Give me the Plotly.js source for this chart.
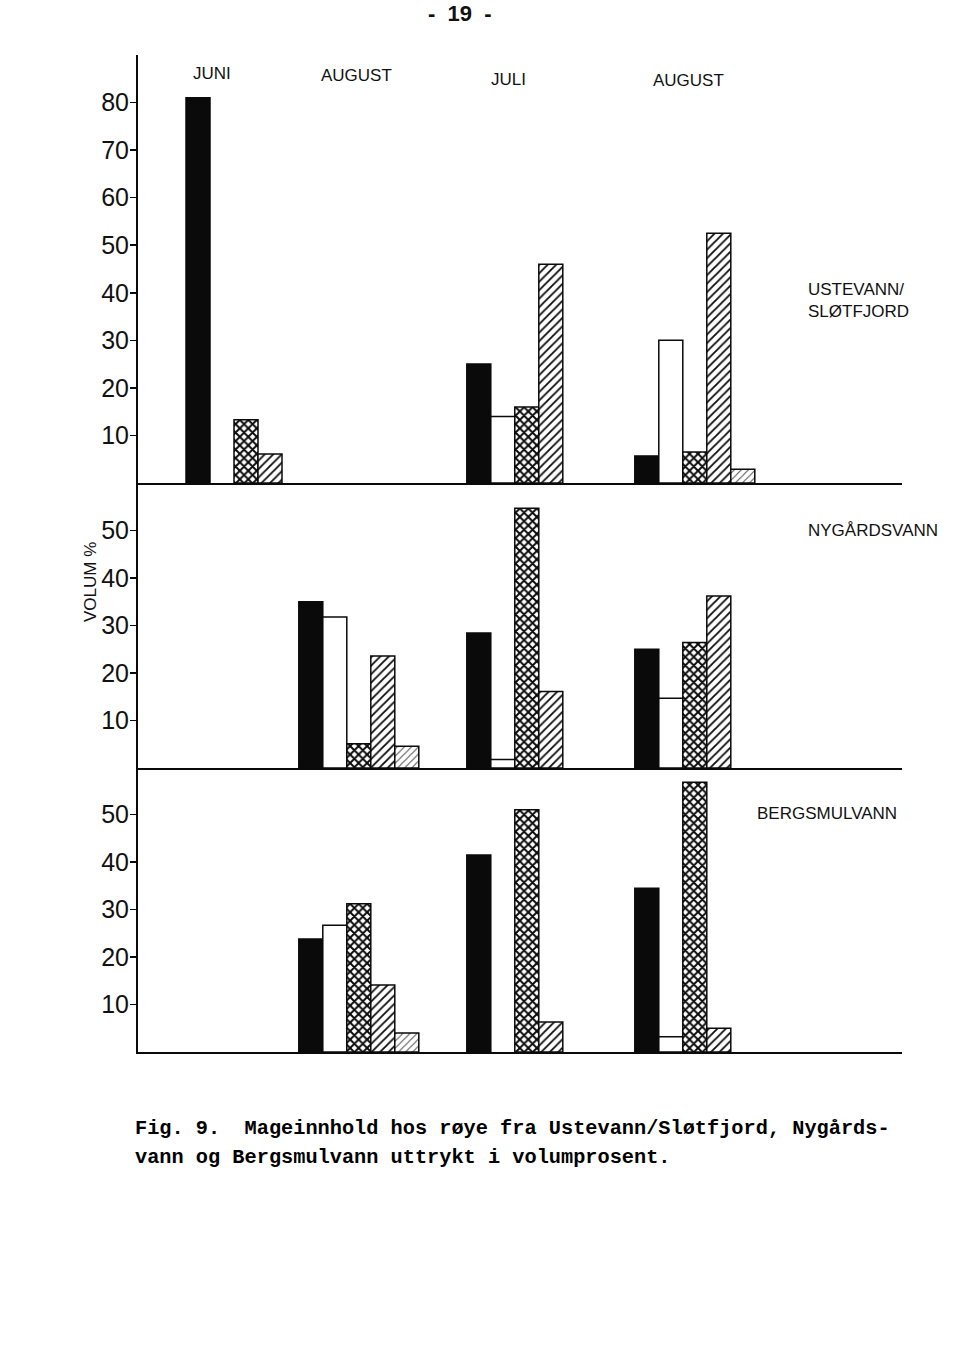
<!DOCTYPE html>
<html><head><meta charset="utf-8">
<script src="https://cdn.plot.ly/plotly-3.0.1.min.js"></script>
<style>html,body{margin:0;padding:0;background:#fff}#chart{width:960px;height:1348px}</style>
</head><body><div id="chart"></div>
<script>
// ---------------- DATA ----------------
const months = ['JUNI', 'AUGUST', 'JULI', 'AUGUST'];
const lakeLabels = ['USTEVANN/<br>SLØTFJORD', 'NYGÅRDSVANN', 'BERGSMULVANN'];
const seriesNames = ['Svart', 'Hvit', 'Kryssskravert', 'Skravert', 'Lett skravert'];

// Ustevann/Sløtfjord (volum %), per month group
const ustevannSvart   = [81,   null, 25,   5.7];
const ustevannHvit    = [null, null, 14,   30];
const ustevannKryss   = [13.3, null, 16,   6.5];
const ustevannSkravert= [6.1,  null, 46,   52.5];
const ustevannLett    = [null, null, null, 2.9];

// Nygårdsvann
const nygardsSvart    = [null, 35,   28.4, 25];
const nygardsHvit     = [null, 31.8, 1.8,  14.7];
const nygardsKryss    = [null, 5.1,  54.7, 26.4];
const nygardsSkravert = [null, 23.6, 16.1, 36.2];
const nygardsLett     = [null, 4.6,  null, null];

// Bergsmulvann
const bergsSvart      = [null, 23.8, 41.5, 34.5];
const bergsHvit       = [null, 26.7, null, 3.2];
const bergsKryss      = [null, 31.2, 51,   56.8];
const bergsSkravert   = [null, 14.1, 6.3,  5];
const bergsLett       = [null, 4,    null, null];

const ticksTop = [10, 20, 30, 40, 50, 60, 70, 80];
const ticksLower = [10, 20, 30, 40, 50];
const yTitle = 'VOLUM %';
const pageNumber = '-  19  -';
const captionLine1 = 'Fig. 9.  Mageinnhold hos røye fra Ustevann/Sløtfjord, Nygårds-';
const captionLine2 = 'vann og Bergsmulvann uttrykt i volumprosent.';

// ---------------- LAYOUT / STYLE ----------------
const W = 960, H = 1348;
const px = v => v / W;           // x pixel -> paper
const py = v => 1 - v / H;       // y pixel -> paper
const axisLeft = 138, axisRight = 902;
const slotPx = 24;                              // one bar width in px
const xRangeMax = (axisRight - axisLeft) / slotPx;
const groupStart = [2.0, 6.7, 13.7, 20.7];       // group start, in bar-width units
const monthLabelPx = [[212, 74], [356, 76], [509, 79], [688, 81]];

const panels = [
  {data: [ustevannSvart, ustevannHvit, ustevannKryss, ustevannSkravert, ustevannLett],
   top: 55, bottom: 483, ymax: 90, ticks: ticksTop},
  {data: [nygardsSvart, nygardsHvit, nygardsKryss, nygardsSkravert, nygardsLett],
   top: 483, bottom: 768, ymax: 60, ticks: ticksLower},
  {data: [bergsSvart, bergsHvit, bergsKryss, bergsSkravert, bergsLett],
   top: 768, bottom: 1052, ymax: 59.8, ticks: ticksLower}
];

const styles = [
  {color: '#0a0a0a'},
  {color: '#ffffff'},
  {color: '#ffffff', pattern: {shape: 'x', fgcolor: '#0a0a0a', bgcolor: '#ffffff', size: 6, solidity: 0.55}},
  {color: '#ffffff', pattern: {shape: '/', fgcolor: '#0a0a0a', bgcolor: '#ffffff', size: 6, solidity: 0.3}},
  {color: '#ffffff', pattern: {shape: '/', fgcolor: '#444444', bgcolor: '#ffffff', size: 5, solidity: 0.18}}
];

const traces = [];
const layout = {
  width: W, height: H,
  margin: {l: 0, r: 0, t: 0, b: 0},
  paper_bgcolor: '#ffffff', plot_bgcolor: 'rgba(0,0,0,0)',
  showlegend: false,
  barmode: 'overlay',
  font: {family: 'Liberation Sans, Arial, sans-serif', color: '#111'},
  annotations: [], shapes: []
};

panels.forEach((p, i) => {
  const n = i === 0 ? '' : String(i + 1);
  const xa = 'x' + n, ya = 'y' + n;
  p.data.forEach((vals, k) => {
    const m = {color: styles[k].color, line: {color: '#0a0a0a', width: 1.5}};
    if (styles[k].pattern) m.pattern = styles[k].pattern;
    traces.push({
      type: 'bar', name: seriesNames[k],
      x: groupStart, y: vals,
      offset: k, width: 1,
      xaxis: xa, yaxis: ya,
      marker: m, hoverinfo: 'skip'
    });
  });
  layout['xaxis' + n] = {
    domain: [px(axisLeft), px(axisRight)], range: [0, xRangeMax],
    anchor: ya, showgrid: false, zeroline: false, showticklabels: false,
    ticks: '', showline: true, linecolor: '#0a0a0a', linewidth: 2, fixedrange: true
  };
  layout['yaxis' + n] = {
    domain: [py(p.bottom), py(p.top)], range: [0, p.ymax],
    anchor: xa, showgrid: false, zeroline: false,
    tickvals: p.ticks, ticktext: p.ticks.map(String),
    ticks: 'outside', ticklen: 6, tickwidth: 1.5, tickcolor: '#0a0a0a',
    ticklabelstandoff: -4,
    tickfont: {size: 25, family: 'Liberation Sans, Arial, sans-serif', color: '#111'},
    showline: true, linecolor: '#0a0a0a', linewidth: 2, fixedrange: true
  };
});

// month labels on top
months.forEach((mth, i) => {
  layout.annotations.push({
    xref: 'paper', yref: 'paper', x: px(monthLabelPx[i][0]), y: py(monthLabelPx[i][1]),
    text: mth, showarrow: false, xanchor: 'center', yanchor: 'middle',
    font: {size: 17, family: 'Liberation Sans, Arial, sans-serif', color: '#111'}
  });
});

// lake labels
const lakePos = [[806, 300], [806, 530], [755, 813]];
lakeLabels.forEach((t, i) => {
  layout.annotations.push({
    xref: 'paper', yref: 'paper', x: px(lakePos[i][0]), y: py(lakePos[i][1]),
    text: t, showarrow: false, xanchor: 'left', yanchor: 'middle', align: 'left',
    font: {size: 17, family: 'Liberation Sans, Arial, sans-serif', color: '#111'}
  });
});

// y-axis title
layout.annotations.push({
  xref: 'paper', yref: 'paper', x: px(90), y: py(582),
  text: yTitle, textangle: -90, showarrow: false, xanchor: 'center', yanchor: 'middle',
  font: {size: 17, family: 'Liberation Sans, Arial, sans-serif', color: '#111'}
});

// page number
layout.annotations.push({
  xref: 'paper', yref: 'paper', x: px(460), y: py(13),
  text: '<b>' + pageNumber + '</b>', showarrow: false, xanchor: 'center', yanchor: 'middle',
  font: {size: 22, family: 'Liberation Sans, Arial, sans-serif', color: '#111'}
});

// caption
layout.annotations.push({
  xref: 'paper', yref: 'paper', x: px(133), y: py(1128),
  text: captionLine1, showarrow: false, xanchor: 'left', yanchor: 'middle',
  font: {size: 20.3, family: 'Liberation Mono, Courier New, monospace', color: '#000', weight: 'bold'}
});
layout.annotations.push({
  xref: 'paper', yref: 'paper', x: px(133), y: py(1157),
  text: captionLine2, showarrow: false, xanchor: 'left', yanchor: 'middle',
  font: {size: 20.3, family: 'Liberation Mono, Courier New, monospace', color: '#000', weight: 'bold'}
});

Plotly.newPlot('chart', traces, layout, {staticPlot: true, displayModeBar: false});
</script>
</body></html>
